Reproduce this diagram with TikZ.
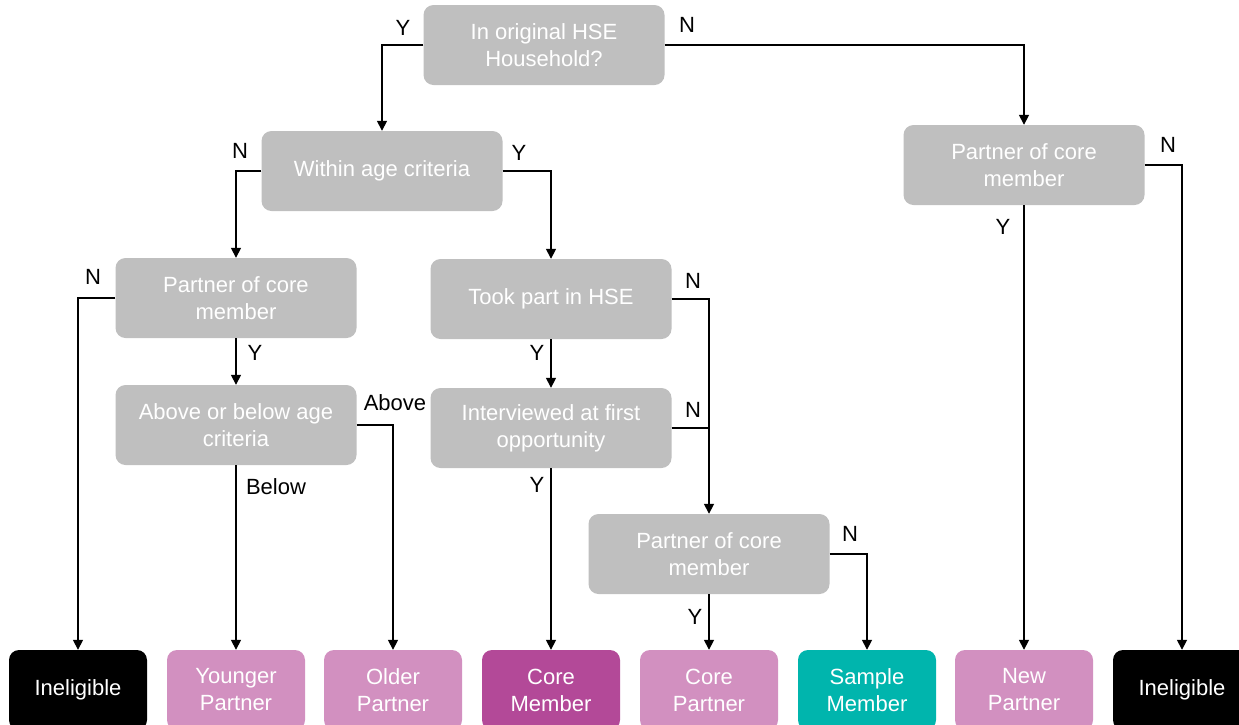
\documentclass[tikz,border=0pt]{standalone}
\usepackage{fontspec}
\setmainfont{Liberation Sans}
\usetikzlibrary{arrows.meta}
\definecolor{boxgrey}{RGB}{191,191,191}
\definecolor{pinkbox}{RGB}{210,144,192}
\definecolor{corebox}{RGB}{179,73,152}
\definecolor{tealbox}{RGB}{0,181,173}
\tikzset{
  qbox/.style={rounded corners=10pt, fill=boxgrey, text=white, minimum width=241pt, minimum height=80pt, align=center, inner sep=2pt, font=\fontsize{22}{27}\selectfont},
  obox/.style={rounded corners=10pt, text=white, minimum width=138pt, minimum height=80pt, align=center, inner sep=2pt, font=\fontsize{22}{27}\selectfont},
  conn/.style={line width=1.6pt, -{Triangle[length=10pt,width=10pt]}},
  plain/.style={line width=1.6pt},
  lab/.style={font=\fontsize{22}{24}\selectfont, text=black, inner sep=0pt}
}
\begin{document}
\begin{tikzpicture}[x=1pt,y=-1pt]
\useasboundingbox (0,0) rectangle (1239,724);
\clip (0,0) rectangle (1239,724);
% question boxes
\node[qbox] (top) at (544,45) {In original HSE\\Household?};
\node[qbox] (age) at (382,171) {Within age criteria};
\node[qbox] (pr) at (1024,165) {Partner of core\\member};
\node[qbox] (pl) at (236,298) {Partner of core\\member};
\node[qbox] (took) at (551,299) {Took part in HSE};
\node[qbox] (ab) at (236,425) {Above or below age\\criteria};
\node[qbox] (int) at (551,428) {Interviewed at first\\opportunity};
\node[qbox] (pm) at (709,554) {Partner of core\\member};
% outcome boxes
\node[obox, fill=black] (in1) at (78,690) {Ineligible};
\node[obox, fill=pinkbox] (yp) at (236,690) {Younger\\Partner};
\node[obox, fill=pinkbox] (op) at (393,690) {Older\\Partner};
\node[obox, fill=corebox] (cm) at (551,690) {Core\\Member};
\node[obox, fill=pinkbox] (cp) at (709,690) {Core\\Partner};
\node[obox, fill=tealbox] (sm) at (867,690) {Sample\\Member};
\node[obox, fill=pinkbox] (np) at (1024,690) {New\\Partner};
\node[obox, fill=black] (in2) at (1182,690) {Ineligible};
% connectors
\draw[conn] (top.west) -| (age.north);
\draw[conn] (top.east) -| (pr.north);
\draw[conn] (age.west) -| (pl.north);
\draw[conn] (age.east) -| (took.north);
\draw[conn] (pr.south) -- (np.north);
\draw[conn] (pr.east) -| (in2.north);
\draw[conn] (pl.west) -| (in1.north);
\draw[conn] (pl.south) -- (ab.north);
\draw[conn] (ab.east) -| (op.north);
\draw[conn] (ab.south) -- (yp.north);
\draw[conn] (took.east) -| (pm.north);
\draw[conn] (took.south) -- (int.north);
\draw[plain] (int.east) -- (int.east -| pm.north);
\draw[conn] (int.south) -- (cm.north);
\draw[conn] (pm.south) -- (cp.north);
\draw[conn] (pm.east) -| (sm.north);
% labels
\node[lab] (l1) at (403,28) {Y};
\node[lab] (l2) at (687,25) {N};
\node[lab] (l3) at (240,151) {N};
\node[lab] (l4) at (519,153) {Y};
\node[lab] (l5) at (1168,145) {N};
\node[lab] (l6) at (1003,227) {Y};
\node[lab] (l7) at (93,277) {N};
\node[lab] (l8) at (255,353) {Y};
\node[lab] (l9) at (395,403) {Above};
\node[lab] (l10) at (276,487) {Below};
\node[lab] (l11) at (693,281) {N};
\node[lab] (l12) at (537,353) {Y};
\node[lab] (l13) at (693,410) {N};
\node[lab] (l14) at (537,485) {Y};
\node[lab] (l15) at (695,617) {Y};
\node[lab] (l16) at (850,534) {N};
\end{tikzpicture}
\end{document}
